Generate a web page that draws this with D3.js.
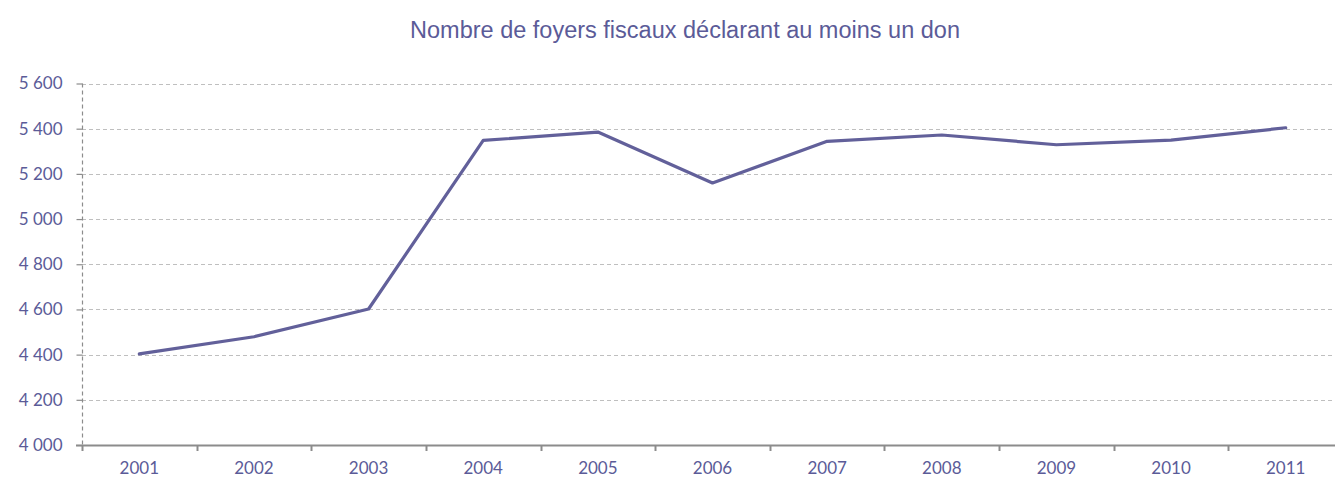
<!DOCTYPE html>
<html><head><meta charset="utf-8">
<script src="https://cdn.jsdelivr.net/npm/d3@7"></script>
<style>body{margin:0;background:#fff;overflow:hidden}</style>
</head><body>
<svg id="c" width="1335" height="479"></svg>
<script>
const title = "Nombre de foyers fiscaux déclarant au moins un don";
const years = ["2001","2002","2003","2004","2005","2006","2007","2008","2009","2010","2011"];
const values = [4403, 4479, 4602, 5348, 5385, 5160, 5344, 5372, 5329, 5349, 5404];
const yTicks = [4000, 4200, 4400, 4600, 4800, 5000, 5200, 5400, 5600];

(function () {
const svg = d3.select("#c");
const mLeft = 82, mRight = 1343, mTop = 83.5, mBottom = 445;
const x = d3.scaleBand().domain(years).range([mLeft, mRight]);
const y = d3.scaleLinear().domain([4000, 5600]).range([mBottom, mTop]);
const fmt = v => d3.format(",")(v).replace(/,/g, " ");
const txtColor = "#5b5b98";
const tickFont = "Lato, 'Open Sans', sans-serif";

svg.append("text").attr("x", 685).attr("y", 38).attr("text-anchor", "middle")
  .attr("font-family", "Liberation Sans, Arial, sans-serif").attr("font-size", 23.5)
  .attr("fill", "#5b5b98").text(title);

// gridlines
svg.append("g").selectAll("line").data(yTicks.filter(d => d > 4000)).join("line")
  .attr("x1", mLeft).attr("x2", 1335).attr("y1", d => Math.round(y(d)) + 0.5).attr("y2", d => Math.round(y(d)) + 0.5)
  .attr("stroke", "#bfbfbf").attr("stroke-width", 1.2).attr("stroke-dasharray", "4,3");

// y axis
const ya = svg.append("g").attr("transform", `translate(${mLeft + 0.5},0)`)
  .call(d3.axisLeft(y).tickValues(yTicks).tickFormat(fmt).tickSize(6).tickPadding(14));
ya.select(".domain").attr("stroke", "#8c8c8c").attr("stroke-width", 1.2).attr("stroke-dasharray", "4,3").attr("d", `M0,${mTop}V${mBottom}`);
ya.selectAll(".tick line").attr("stroke", "#8c8c8c").attr("stroke-width", 1.2);
ya.selectAll(".tick text").attr("fill", txtColor).attr("font-family", tickFont).attr("font-size", 17);

// x axis
const xa = svg.append("g").attr("transform", `translate(0,${mBottom + 0.5})`)
  .call(d3.axisBottom(x).tickSize(0).tickPadding(16));
xa.select(".domain").attr("stroke", "#8c8c8c").attr("stroke-width", 2).attr("d", `M${mLeft - 6},0H1335`);
xa.selectAll(".tick text").attr("fill", txtColor).attr("font-family", tickFont).attr("font-size", 17);
svg.append("g").selectAll("line").data(years).join("line")
  .attr("x1", d => Math.round(x(d)) + 0.5).attr("x2", d => Math.round(x(d)) + 0.5)
  .attr("y1", mBottom).attr("y2", mBottom + 6).attr("stroke", "#8c8c8c").attr("stroke-width", 2);

// line
const line = d3.line().x((d, i) => x(years[i]) + x.bandwidth() / 2).y(d => y(d));
svg.append("path").datum(values).attr("d", line).attr("fill", "none")
  .attr("stroke", "#62609a").attr("stroke-width", 3.2).attr("stroke-linejoin", "round").attr("stroke-linecap", "round");
})();
</script>
</body></html>
